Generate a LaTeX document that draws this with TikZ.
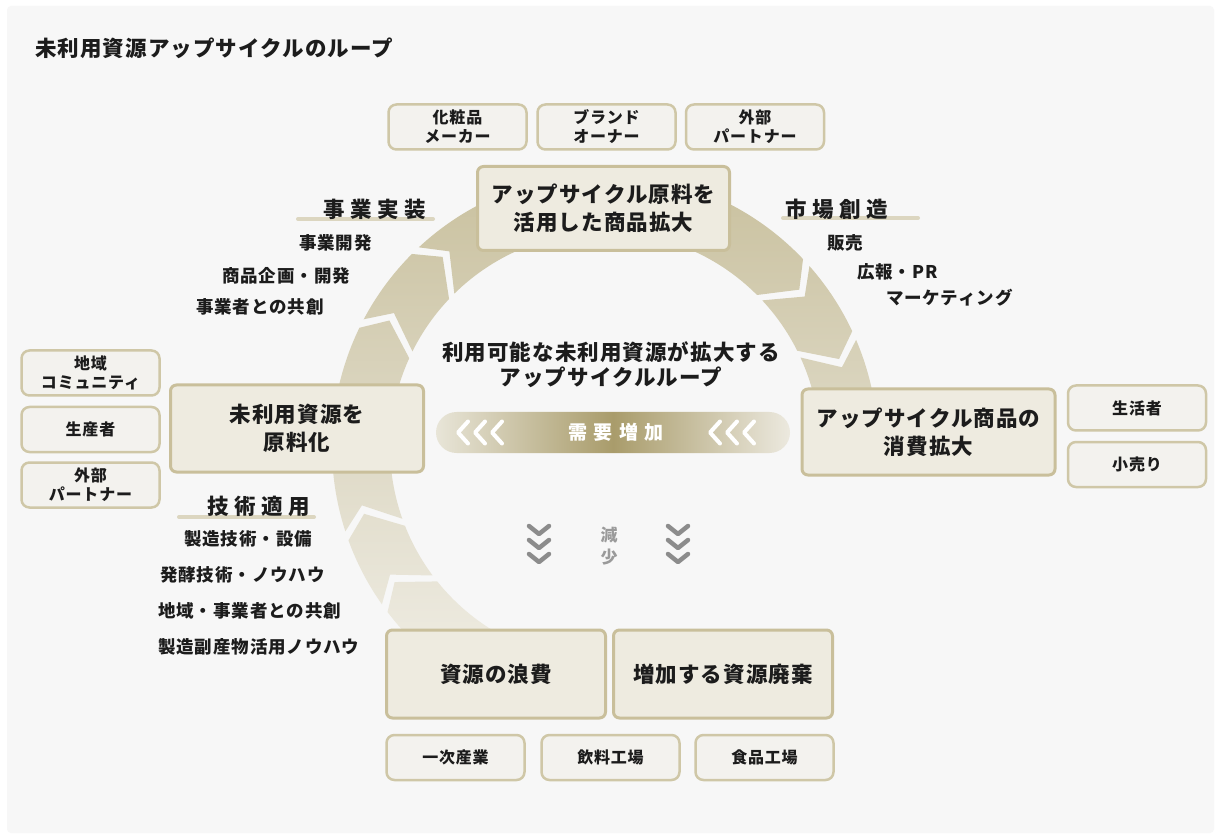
\documentclass[tikz,border=0pt]{standalone}
\usepackage{fontspec}
\newfontfamily\jp{Noto Sans CJK JP}[LetterSpace=5]
\newfontfamily\jptitle{Noto Sans CJK JP}[LetterSpace=5]
\newfontfamily\jphead{Noto Sans CJK JP}[LetterSpace=26]
\newfontfamily\jppill{Noto Sans CJK JP}[LetterSpace=32]
\definecolor{bg}{HTML}{F7F7F7}
\definecolor{ink}{HTML}{1C1C1C}
\definecolor{mainF}{HTML}{EEEBE0}
\definecolor{mainB}{HTML}{C9BF9B}
\definecolor{smallF}{HTML}{F3F2EE}
\definecolor{smallB}{HTML}{CFC7A7}
\definecolor{ulc}{HTML}{DCD6C0}
\definecolor{ringTop}{HTML}{C7BE9A}
\definecolor{ringMid}{HTML}{DDD8C4}
\definecolor{ringBot}{HTML}{F3F1EA}
\definecolor{pillL}{HTML}{E8E5D8}
\definecolor{pillM}{HTML}{A99C6B}
\definecolor{pillR}{HTML}{ECE9DF}
\definecolor{chevgray}{HTML}{8C8C8C}
\definecolor{softgray}{HTML}{9A9A9A}
\newcommand\ringseg[2]{({#1+6}:215) arc[start angle={#1+6}, end angle={#2+6}, radius=215] -- (#2:250) -- ({#2+4.5}:273) arc[start angle={#2+4.5}, end angle={#1+4.5}, radius=273] -- (#1:250) -- cycle}
\tikzset{
  mainbox/.style={draw=mainB, fill=mainF, line width=3pt, rounded corners=6pt, inner sep=0pt, align=center, text=ink, font=\jp\bfseries\fontsize{21.5}{28}\selectfont},
  smallbox/.style={draw=smallB, fill=smallF, line width=2.5pt, rounded corners=8pt, inner sep=0pt, align=center, text=ink, minimum width=138, minimum height=45, font=\jp\bfseries\fontsize{16}{19}\selectfont},
  lbl/.style={inner sep=0pt, text=ink, font=\jp\bfseries\fontsize{17.5}{20}\selectfont},
  headlbl/.style={inner sep=0pt, text=ink, font=\jphead\bfseries\fontsize{21.5}{24}\selectfont},
  uline/.style={draw=ulc, line width=4pt, line cap=round},
  chevw/.style={draw=white, line width=4pt, line cap=round, line join=round},
  chevd/.style={draw=chevgray, line width=4.5pt, line cap=round, line join=round}
}
\begin{document}
\begin{tikzpicture}[x=1pt,y=1pt]
\useasboundingbox (0,0) rectangle (1220,839);
\fill[white] (0,0) rectangle (1220,839);
\fill[bg, rounded corners=4pt] (7,6) rectangle (1214,833);
% ring of arrow segments
\begin{scope}[shift={(605,392)}]
\shade[top color=ringTop, bottom color=ringBot, middle color=ringMid]
  \ringseg{262}{212.7}
  \ringseg{210.7}{195.5}
  \ringseg{193.5}{149.6}
  \ringseg{147.6}{130.5}
  \ringseg{128.5}{39}
  \ringseg{37}{20.6}
  \ringseg{18.6}{-6};
\end{scope}
\begin{scope}[shift={(0,839)}, yscale=-1]
% title
\node[anchor=west, inner sep=0pt, text=ink, font=\jptitle\bfseries\fontsize{21.5}{26}\selectfont] (title) at (35,48) {未利用資源アップサイクルのループ};
% small boxes top
\node[smallbox] (cos) at (457.5,127) {化粧品\\メーカー};
\node[smallbox] (brand) at (606.5,127) {ブランド\\オーナー};
\node[smallbox] (ext1) at (755,127) {外部\\パートナー};
% main boxes
\node[mainbox, minimum width=252, minimum height=84] (top) at (603.5,208.5) {アップサイクル原料を\\活用した商品拡大};
\node[mainbox, minimum width=253, minimum height=87] (left) at (297,428.5) {未利用資源を\\原料化};
\node[mainbox, minimum width=253, minimum height=86] (right) at (928.5,432) {アップサイクル商品の\\消費拡大};
\node[mainbox, minimum width=219, minimum height=88] (waste) at (496,674) {資源の浪費};
\node[mainbox, minimum width=219, minimum height=88] (disp) at (723,674) {増加する資源廃棄};
% left small boxes
\node[smallbox] (comm) at (90.5,373) {地域\\コミュニティ};
\node[smallbox] (prod) at (90.5,429.5) {生産者};
\node[smallbox] (ext2) at (90.5,485) {外部\\パートナー};
% right small boxes
\node[smallbox] (life) at (1137,408) {生活者};
\node[smallbox] (retail) at (1137,464.5) {小売り};
% bottom small boxes
\node[smallbox] (prim) at (455.5,757.5) {一次産業};
\node[smallbox] (bev) at (610.5,757.5) {飲料工場};
\node[smallbox] (food) at (764.5,757.5) {食品工場};
% headers and lists
\draw[uline] (298,219) -- (433,219);
\node[headlbl, anchor=west] (h1) at (323,209) {事業実装};
\node[lbl, anchor=west] (l11) at (299,243) {事業開発};
\node[lbl, anchor=west] (l12) at (222,276) {商品企画・開発};
\node[lbl, anchor=west] (l13) at (196,307) {事業者との共創};
\draw[uline] (783,218) -- (918,218);
\node[headlbl, anchor=west] (h2) at (785,209) {市場創造};
\node[lbl, anchor=west] (l21) at (827,243) {販売};
\node[lbl, anchor=west] (l22) at (857,272) {広報・PR};
\node[lbl, anchor=west] (l23) at (886,298) {マーケティング};
\draw[uline] (179,517) -- (314,517);
\node[headlbl, anchor=west] (h3) at (207,506) {技術適用};
\node[lbl, anchor=west] (l31) at (184,539) {製造技術・設備};
\node[lbl, anchor=west] (l32) at (160,575) {発酵技術・ノウハウ};
\node[lbl, anchor=west] (l33) at (158,611) {地域・事業者との共創};
\node[lbl, anchor=west] (l34) at (158,647) {製造副産物活用ノウハウ};
% center text
\node[inner sep=0pt, align=center, text=ink, font=\jp\bfseries\fontsize{21.5}{25}\selectfont] (center) at (611,364.5) {利用可能な未利用資源が拡大する\\アップサイクルループ};
% demand pill
\node[rounded corners=20.5pt, left color=pillL, right color=pillR, middle color=pillM, minimum width=354, minimum height=41, inner sep=0pt, text=white, font=\jppill\bfseries\fontsize{19}{22}\selectfont] (pill) at (613,432.5) {\hspace*{6pt}需要増加};
\foreach \x in {458,475,492,710,727,744}{
  \draw[chevw] (\x+10,421.5) -- (\x,432.5) -- (\x+10,443.5);
}
% decrease
\node[inner sep=0pt, align=center, text=softgray, font=\jp\bfseries\fontsize{17}{22}\selectfont] (dec) at (609,546) {減\\少};
\foreach \cx in {539,678}{
  \foreach \y in {526,540,554}{
    \draw[chevd] (\cx-10,\y) -- (\cx,\y+8) -- (\cx+10,\y);
  }
}
\end{scope}
\end{tikzpicture}
\end{document}
